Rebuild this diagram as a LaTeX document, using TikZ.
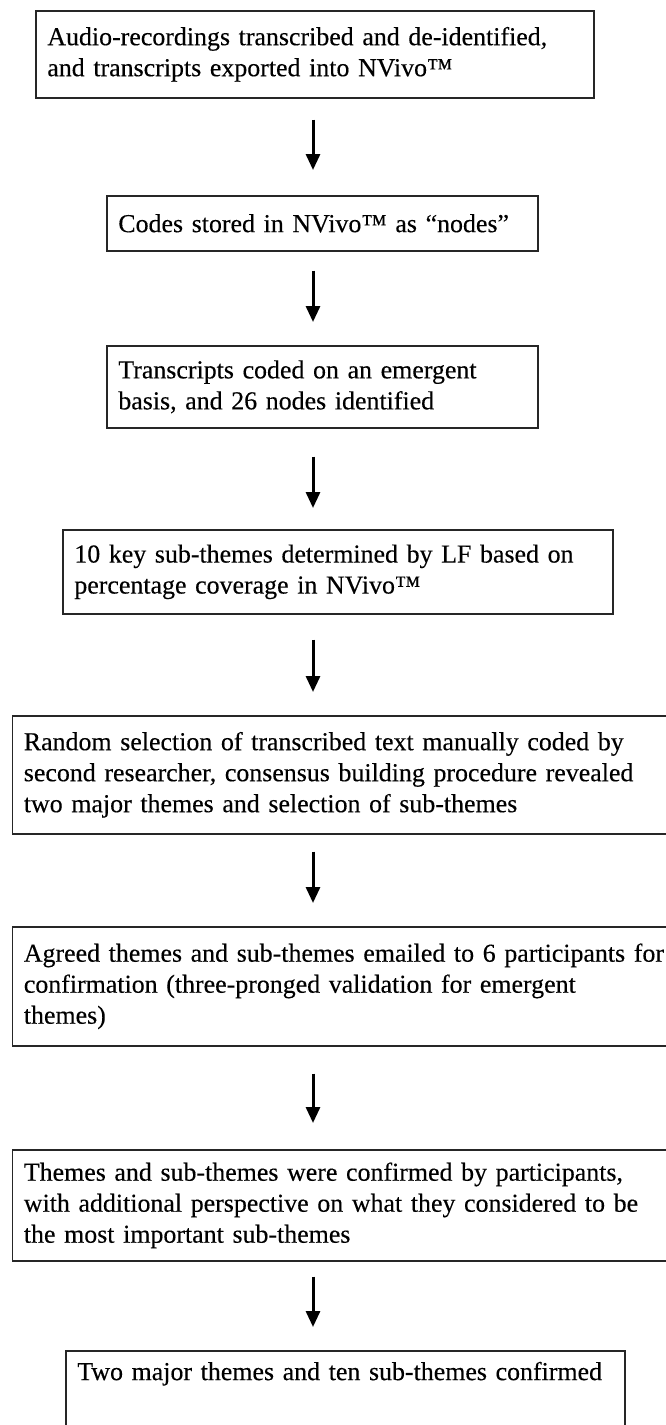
\documentclass[tikz,border=0pt]{standalone}
\usepackage{fontspec}
\setmainfont{Liberation Serif}[FakeBold=0.3]
\usetikzlibrary{arrows.meta}

% one line of a box label, never broken or hyphenated
\newcommand{\boxline}[1]{\mbox{#1}}

\tikzset{
  stepbox/.style={draw=black!85, line width=1.7pt, anchor=north west,
    inner xsep=11.5pt, inner ysep=0pt, align=left, text=black,
    font=\fontsize{25.9}{31}\selectfont},
  flow/.style={draw=black, line width=3pt,
    -{Triangle[width=14pt,length=16pt]}}
}

\begin{document}
\begin{tikzpicture}[x=1pt, y=-1pt]
  \useasboundingbox (0,0) rectangle (666,1425);
  \clip (0,0) rectangle (666,1425);

  % vertical axis of the arrows
  \coordinate (axis) at (313,0);

  \node[stepbox, text width=535pt, minimum height=87pt] (b1) at (35,10)
    {\boxline{Audio-recordings transcribed and de-identified,}\\
     \boxline{and transcripts exported into NVivo™}};

  \node[stepbox, text width=408pt, minimum height=55pt] (b2) at (106,195)
    {\boxline{Codes stored in NVivo™ as “nodes”}};

  \node[stepbox, text width=408pt, minimum height=82pt] (b3) at (106,345)
    {\boxline{Transcripts coded on an emergent}\\
     \boxline{basis, and 26 nodes identified}};

  \node[stepbox, text width=527pt, minimum height=84pt] (b4) at (62,529)
    {\boxline{10 key sub-themes determined by LF based on}\\
     \boxline{percentage coverage in NVivo™}};

  \node[stepbox, text width=650pt, minimum height=118pt] (b5) at (11.5,715)
    {\boxline{Random selection of transcribed text manually coded by}\\
     \boxline{second researcher, consensus building procedure revealed}\\
     \boxline{two major themes and selection of sub-themes}};

  \node[stepbox, text width=650pt, minimum height=119pt] (b6) at (11.5,926)
    {\boxline{Agreed themes and sub-themes emailed to 6 participants for}\\
     \boxline{confirmation (three-pronged validation for emergent}\\
     \boxline{themes)}};

  \node[stepbox, text width=650pt, minimum height=111pt] (b7) at (11.5,1149)
    {\boxline{Themes and sub-themes were confirmed by participants,}\\
     \boxline{with additional perspective on what they considered to be}\\
     \boxline{the most important sub-themes}};

  \node[stepbox, text width=536pt, inner ysep=11pt] (b8) at (65,1350)
    {\boxline{Two major themes and ten sub-themes confirmed}\\
     \strut\\ \strut};

  % connectors
  \draw[flow, shorten <=21pt, shorten >=25pt] (b1.south -| axis) -- (b2.north -| axis);
  \draw[flow, shorten <=19pt, shorten >=23pt] (b2.south -| axis) -- (b3.north -| axis);
  \draw[flow, shorten <=28pt, shorten >=21pt] (b3.south -| axis) -- (b4.north -| axis);
  \draw[flow, shorten <=25pt, shorten >=23pt] (b4.south -| axis) -- (b5.north -| axis);
  \draw[flow, shorten <=17pt, shorten >=23pt] (b5.south -| axis) -- (b6.north -| axis);
  \draw[flow, shorten <=27pt, shorten >=26pt] (b6.south -| axis) -- (b7.north -| axis);
  \draw[flow, shorten <=15pt, shorten >=23pt] (b7.south -| axis) -- (b8.north -| axis);
\end{tikzpicture}
\end{document}
